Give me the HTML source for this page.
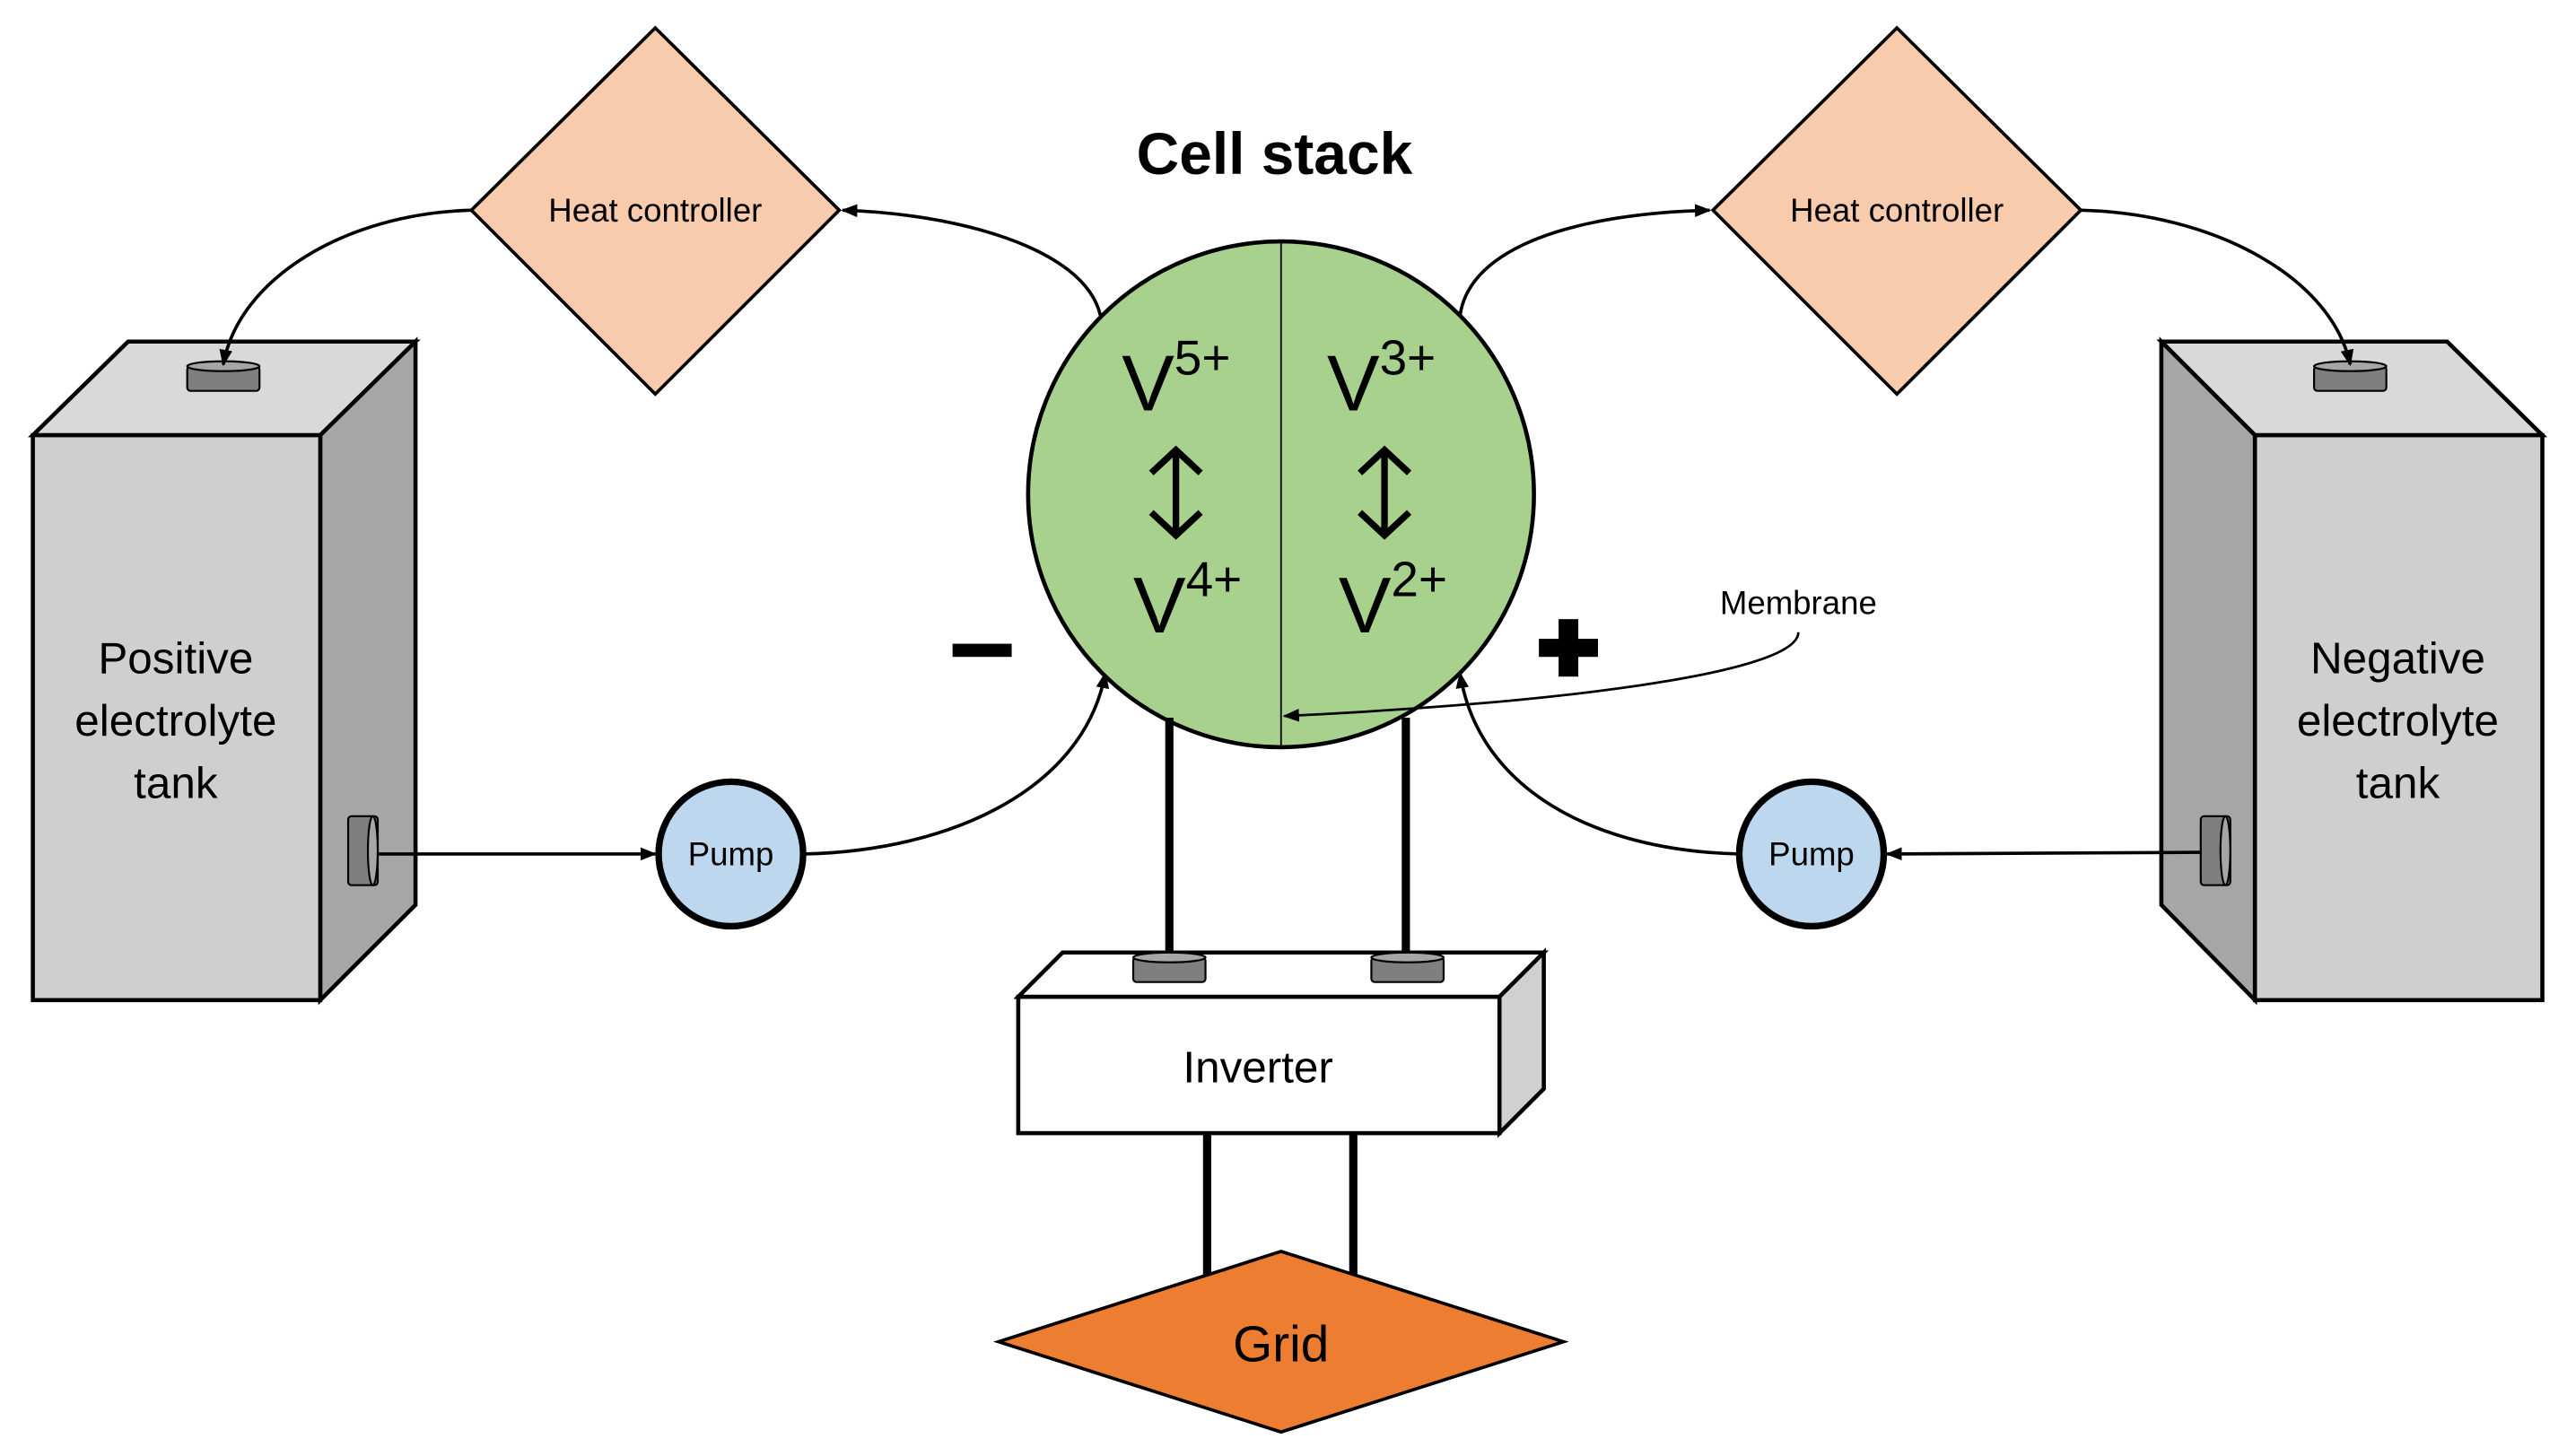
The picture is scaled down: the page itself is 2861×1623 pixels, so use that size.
<!DOCTYPE html>
<html><head><meta charset="utf-8"><style>html,body{margin:0;padding:0;background:#fff}svg{display:block}text{font-family:"Liberation Sans",sans-serif;fill:#000}</style></head>
<body>
<svg width="2861" height="1623" viewBox="0 0 1563 886.6" preserveAspectRatio="none" xmlns="http://www.w3.org/2000/svg">
<defs><marker id="a" markerWidth="10" markerHeight="10" refX="9" refY="5" orient="auto" markerUnits="userSpaceOnUse"><path d="M0,1 L10,5 L0,9 z" fill="#000"/></marker></defs>
<polygon points="399,17 511,128 399,240 287,128" fill="#f8cbad" stroke="#000" stroke-width="2"/>
<text x="399" y="135" font-size="20" text-anchor="middle">Heat controller</text>
<polygon points="1155,17 1267,128 1155,240 1043,128" fill="#f8cbad" stroke="#000" stroke-width="2"/>
<text x="1155" y="135" font-size="20" text-anchor="middle">Heat controller</text>
<text x="776" y="106" font-size="36" font-weight="bold" text-anchor="middle">Cell stack</text>
<g fill="none" stroke="#000" stroke-width="2">
<path d="M670,192 C660,150 580,130 513,128" marker-end="url(#a)"/>
<path d="M889,192 C895,150 960,130 1041,128" marker-end="url(#a)"/>
<path d="M490,520 C580,518 660,480 673,410" marker-end="url(#a)"/>
<path d="M1059,520 C970,518 900,480 889,410" marker-end="url(#a)"/>
</g>
<ellipse cx="780" cy="301" rx="154" ry="154" fill="#a9d18e" stroke="#000" stroke-width="2.5"/>
<line x1="780" y1="147" x2="780" y2="455" stroke="#000" stroke-width="1"/>
<path d="M1095,385 C1095,410 950,428 782,436" fill="none" stroke="#000" stroke-width="1.5" marker-end="url(#a)"/>
<text x="1095" y="374" font-size="20" text-anchor="middle">Membrane</text>
<text x="683" y="250" font-size="48">V<tspan font-size="30" dy="-22">5+</tspan></text>
<text x="808" y="250" font-size="48">V<tspan font-size="30" dy="-22">3+</tspan></text>
<text x="690" y="385" font-size="48">V<tspan font-size="30" dy="-22">4+</tspan></text>
<text x="815" y="385" font-size="48">V<tspan font-size="30" dy="-22">2+</tspan></text>
<g fill="none" stroke="#000" stroke-width="4">
<path d="M716,274 V326 M701,288 L716,274 L731,288 M701,312 L716,326 L731,312"/>
<path d="M843,274 V326 M828,288 L843,274 L858,288 M828,312 L843,326 L858,312"/>
</g>
<rect x="580" y="392" width="36" height="8" fill="#000"/>
<rect x="937" y="389" width="36" height="11" fill="#000"/>
<rect x="949" y="377" width="12" height="35" fill="#000"/>
<g stroke="#000" stroke-width="2.5">
<polygon points="20,265 78,208 253,208 195,265" fill="#d9d9d9"/>
<polygon points="195,265 253,208 253,551 195,609" fill="#a6a6a6"/>
<rect x="20" y="265" width="175" height="344" fill="#d0cfd0"/>
<polygon points="1316,208 1490,208 1548,265 1373,265" fill="#d9d9d9"/>
<polygon points="1316,208 1373,265 1373,609 1316,551" fill="#a6a6a6"/>
<rect x="1373" y="265" width="175" height="344" fill="#d0cfd0"/>
</g>
<g stroke="#000" stroke-width="1.2" fill="#7f7f7f">
<rect x="114" y="223" width="44" height="15" rx="2"/><ellipse cx="136" cy="223" rx="22" ry="3" fill="#a6a6a6"/>
<rect x="1409" y="223" width="44" height="15" rx="2"/><ellipse cx="1431" cy="223" rx="22" ry="3" fill="#a6a6a6"/>
<rect x="212" y="497" width="18" height="42" rx="2"/><ellipse cx="227" cy="518" rx="3" ry="21" fill="#a6a6a6"/>
<rect x="1340" y="497" width="18" height="42" rx="2"/><ellipse cx="1355" cy="518" rx="3" ry="21" fill="#a6a6a6"/>
</g>
<g fill="none" stroke="#000" stroke-width="2">
<path d="M287,128 C210,130 145,170 136,222" marker-end="url(#a)"/>
<path d="M1267,128 C1350,130 1420,170 1431,222" marker-end="url(#a)"/>
<path d="M230,520 L399,520" marker-end="url(#a)"/>
<path d="M1340,519 L1149,520" marker-end="url(#a)"/>
</g>
<g font-size="27" text-anchor="middle">
<text x="107" y="410">Positive</text><text x="107" y="448">electrolyte</text><text x="107" y="486">tank</text>
<text x="1460" y="410">Negative</text><text x="1460" y="448">electrolyte</text><text x="1460" y="486">tank</text>
</g>
<circle cx="445" cy="520" r="44" fill="#bdd7ee" stroke="#000" stroke-width="4"/>
<text x="445" y="527" font-size="20" text-anchor="middle">Pump</text>
<circle cx="1103" cy="520" r="44" fill="#bdd7ee" stroke="#000" stroke-width="4"/>
<text x="1103" y="527" font-size="20" text-anchor="middle">Pump</text>
<g stroke="#000" stroke-width="5">
<line x1="712" y1="437" x2="712" y2="585"/><line x1="856" y1="437" x2="856" y2="585"/>
<line x1="735" y1="690" x2="735" y2="778"/><line x1="824" y1="690" x2="824" y2="778"/>
</g>
<g stroke="#000" stroke-width="2.5">
<polygon points="620,607 647,580 940,580 913,607" fill="#fff"/>
<polygon points="913,607 940,580 940,663 913,690" fill="#d0d0d0"/>
<rect x="620" y="607" width="293" height="83" fill="#fff"/>
</g>
<g stroke="#000" stroke-width="1.2" fill="#7f7f7f">
<rect x="690" y="583" width="44" height="15" rx="2"/><ellipse cx="712" cy="583" rx="22" ry="3" fill="#a6a6a6"/>
<rect x="835" y="583" width="44" height="15" rx="2"/><ellipse cx="857" cy="583" rx="22" ry="3" fill="#a6a6a6"/>
</g>
<text x="766" y="659" font-size="27" text-anchor="middle">Inverter</text>
<polygon points="608,817 780,762 952,817 780,872" fill="#ed7d31" stroke="#000" stroke-width="2"/>
<text x="780" y="829" font-size="31" text-anchor="middle">Grid</text>
</svg>
</body></html>
